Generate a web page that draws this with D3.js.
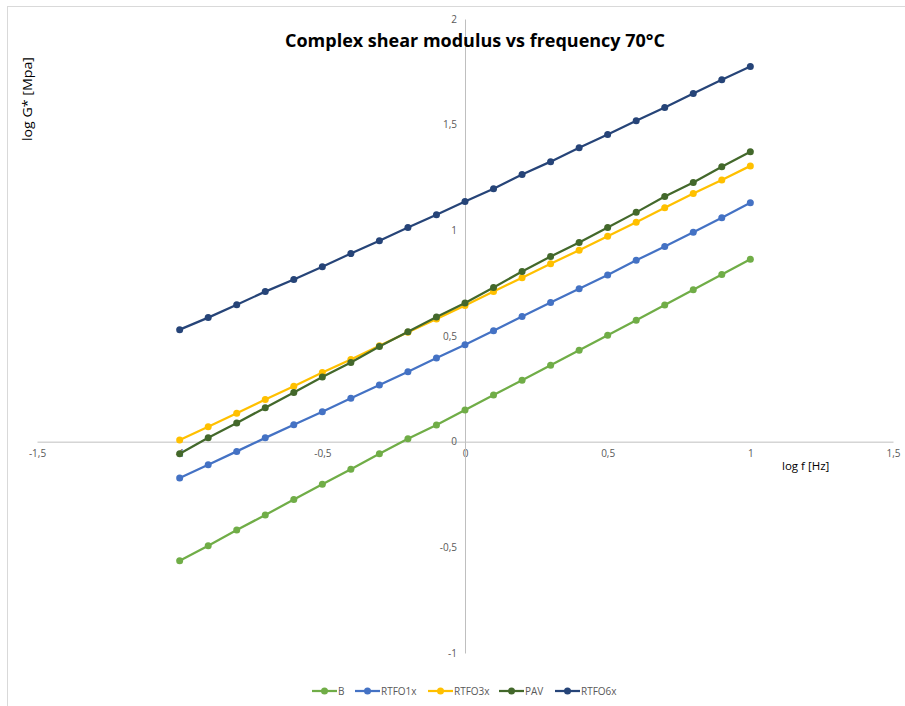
<!DOCTYPE html>
<html>
<head>
<meta charset="utf-8">
<script src="https://cdn.jsdelivr.net/npm/d3@7"></script>
<style>
  html, body { margin: 0; padding: 0; background: #fff; }
  svg { display: block; }
</style>
</head>
<body>
<svg id="chart" width="905" height="706"></svg>
<script>
const logF = [-1, -0.9, -0.8, -0.7, -0.6, -0.5, -0.4, -0.3, -0.2, -0.1, 0, 0.1, 0.2, 0.3, 0.4, 0.5, 0.6, 0.7, 0.8, 0.9, 1];
const seriesNames = ["B", "RTFO1x", "RTFO3x", "PAV", "RTFO6x"];
const seriesColors = ["#70AD47", "#4472C4", "#FFC000", "#43682B", "#264478"];
const valuesB = [-0.563, -0.492, -0.418, -0.347, -0.274, -0.202, -0.131, -0.057, 0.014, 0.079, 0.150, 0.221, 0.291, 0.362, 0.433, 0.503, 0.574, 0.647, 0.719, 0.791, 0.863];
const valuesRTFO1x = [-0.172, -0.109, -0.046, 0.018, 0.080, 0.142, 0.205, 0.268, 0.331, 0.396, 0.459, 0.525, 0.592, 0.658, 0.724, 0.789, 0.858, 0.923, 0.991, 1.060, 1.130];
const valuesRTFO3x = [0.008, 0.071, 0.134, 0.199, 0.262, 0.327, 0.389, 0.454, 0.518, 0.581, 0.644, 0.711, 0.776, 0.842, 0.906, 0.972, 1.038, 1.107, 1.174, 1.238, 1.305];
const valuesPAV = [-0.057, 0.019, 0.088, 0.161, 0.233, 0.306, 0.375, 0.450, 0.520, 0.590, 0.656, 0.730, 0.805, 0.876, 0.942, 1.013, 1.085, 1.160, 1.226, 1.301, 1.372];
const valuesRTFO6x = [0.530, 0.587, 0.648, 0.710, 0.767, 0.828, 0.890, 0.951, 1.013, 1.074, 1.136, 1.197, 1.264, 1.325, 1.391, 1.453, 1.519, 1.581, 1.647, 1.713, 1.775];
const xTicks = [-1.5, -1, -0.5, 0, 0.5, 1, 1.5];
const yTicks = [-1, -0.5, 0, 0.5, 1, 1.5, 2];
const titleText = "Complex shear modulus vs frequency 70°C";
const xTitle = "log f [Hz]";
const yTitle = "log G* [Mpa]";

const allValues = [valuesB, valuesRTFO1x, valuesRTFO3x, valuesPAV, valuesRTFO6x];
const series = seriesNames.map((n, i) => ({
  name: n, color: seriesColors[i],
  points: logF.map((x, j) => ({ x, y: allValues[i][j] }))
}));

const svg = d3.select("#chart");
const font = "'Open Sans', 'Noto Sans', sans-serif";

// chart border
svg.append("rect").attr("x", 7.5).attr("y", 6.5).attr("width", 920).attr("height", 720)
  .attr("fill", "none").attr("stroke", "#d9d9d9").attr("stroke-width", 1);

const x = d3.scaleLinear().domain([-1.5, 1.5]).range([37, 893]);
const y = d3.scaleLinear().domain([-1, 2]).range([653, 19]);

const fmt = d => String(d).replace(".", ",");

// x axis at y=0
const xAxis = d3.axisBottom(x).tickValues(xTicks).tickSize(0).tickPadding(8).tickFormat(fmt);
const gx = svg.append("g").attr("transform", `translate(0,${y(0)})`).call(xAxis);
gx.select(".domain").attr("stroke", "#bfbfbf").attr("stroke-width", 1);
gx.selectAll("text").attr("fill", "#595959").style("font-family", font).style("font-size", "10px");

// y axis at x=0
const yAxis = d3.axisLeft(y).tickValues(yTicks).tickSize(0).tickPadding(8).tickFormat(fmt);
const gy = svg.append("g").attr("transform", `translate(${x(0)},0)`).call(yAxis);
gy.select(".domain").attr("stroke", "#bfbfbf").attr("stroke-width", 1);
gy.selectAll("text").attr("fill", "#595959").style("font-family", font).style("font-size", "10px");

// title
svg.append("text").attr("x", 475).attr("y", 47).attr("text-anchor", "middle")
  .style("font-family", font).style("font-weight", "bold").style("font-size", "18px")
  .attr("fill", "#000").attr("textLength", 380).attr("lengthAdjust", "spacingAndGlyphs")
  .text(titleText);

// axis titles
svg.append("text").attr("x", 782).attr("y", 470)
  .style("font-family", font).style("font-size", "11.5px").attr("fill", "#000").text(xTitle);
svg.append("text").attr("transform", "translate(32,99) rotate(-90)").attr("text-anchor", "middle")
  .style("font-family", font).style("font-size", "12px").attr("fill", "#000")
  .attr("textLength", 84).attr("lengthAdjust", "spacingAndGlyphs").text(yTitle);

// lines and markers
const line = d3.line().x(d => x(d.x)).y(d => y(d.y));
const gS = svg.append("g");
series.forEach(s => {
  const g = gS.append("g");
  g.append("path").datum(s.points).attr("d", line).attr("fill", "none")
    .attr("stroke", s.color).attr("stroke-width", 2.25).attr("stroke-linejoin", "round");
  g.selectAll("circle").data(s.points).join("circle")
    .attr("cx", d => x(d.x)).attr("cy", d => y(d.y)).attr("r", 3.5)
    .attr("fill", s.color);
});

// legend
const legendX = [312, 355, 428, 499, 555];
const legend = svg.append("g");
series.forEach((s, i) => {
  const g = legend.append("g").attr("transform", `translate(${legendX[i]},691)`);
  g.append("line").attr("x1", 0).attr("x2", 25).attr("y1", 0).attr("y2", 0)
    .attr("stroke", s.color).attr("stroke-width", 2.25);
  g.append("circle").attr("cx", 12.5).attr("cy", 0).attr("r", 3.5).attr("fill", s.color);
  g.append("text").attr("x", 26).attr("y", 3.5).style("font-family", font).style("font-size", "10px")
    .attr("fill", "#595959").text(s.name);
});
</script>
</body>
</html>
